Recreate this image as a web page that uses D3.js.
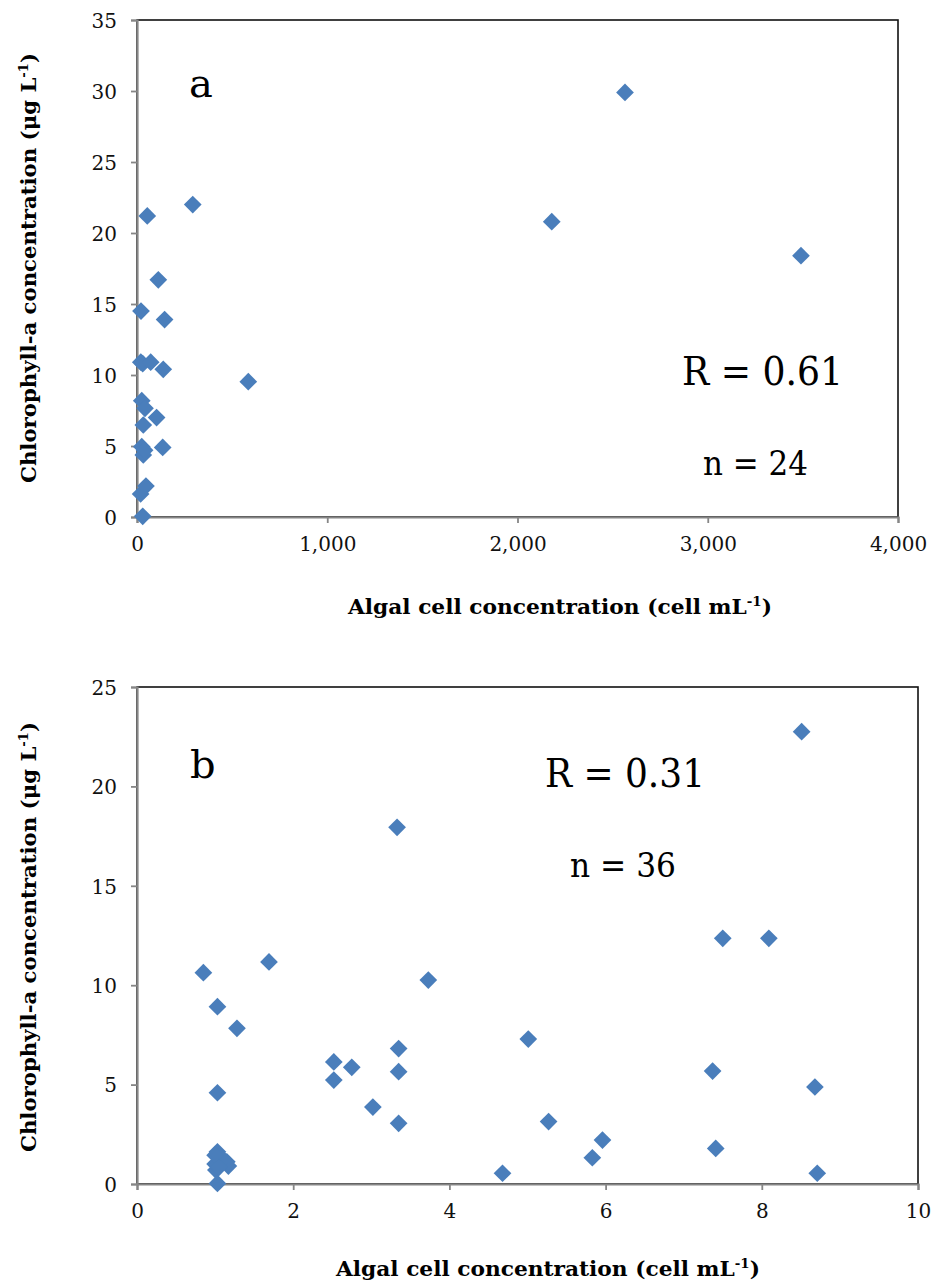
<!DOCTYPE html>
<html>
<head>
<meta charset="utf-8">
<script src="https://cdn.jsdelivr.net/npm/d3@7"></script>
<style>
  html, body { margin: 0; padding: 0; background: #fff; }
  svg { display: block; }
  .tick text { font-family: "DejaVu Serif", serif; font-size: 20px; fill: #111; }
</style>
</head>
<body>
<svg id="chart" width="933" height="1286"></svg>
<script>
// Panel a: algal cell concentration vs chlorophyll-a (cells up to 4,000 mL-1)
const cellsA = [30, 19, 47, 25, 33, 135, 40, 25, 42, 103, 33, 30, 20, 72, 138,
                21, 145, 112, 54, 293, 585, 2565, 2180, 3490];
const chlA   = [0.05, 1.62, 2.18, 4.95, 4.37, 4.9, 4.7, 8.19, 7.65, 7.0, 6.48, 10.8, 10.9, 10.9, 10.4,
                14.5, 13.9, 16.7, 21.2, 22.0, 9.53, 29.9, 20.8, 18.4];

// Panel b: algal cell concentration vs chlorophyll-a (cells up to 10 mL-1)
const cellsB = [0.85, 1.69, 3.33, 3.73, 1.03, 1.28, 1.03, 1.03, 1.06, 1.15, 1.17, 1.01,
                1.03, 1.00, 1.10, 1.00, 1.05, 2.52, 2.52, 2.75, 3.35, 3.35, 3.02, 3.35,
                5.01, 5.27, 5.96, 5.83, 4.68, 7.37, 7.41, 8.68, 8.71, 8.51, 7.50, 8.09];
const chlB   = [10.63, 11.17, 17.94, 10.26, 8.92, 7.83, 4.59, 1.62, 1.37, 1.12, 0.90, 0.70,
                0.03, 1.00, 1.25, 1.45, 0.85, 6.14, 5.23, 5.87, 6.81, 5.65, 3.87, 3.05,
                7.29, 3.14, 2.21, 1.32, 0.54, 5.68, 1.79, 4.88, 0.54, 22.75, 12.36, 12.36];

const xTicksA = [0, 1000, 2000, 3000, 4000];
const yTicksA = [0, 5, 10, 15, 20, 25, 30, 35];
const xTicksB = [0, 2, 4, 6, 8, 10];
const yTicksB = [0, 5, 10, 15, 20, 25];

const panels = [
  { letter: "a", cells: cellsA, chl: chlA, xMax: 4000, yMax: 35, xTicks: xTicksA, yTicks: yTicksA,
    xFmt: d3.format(","), r: "R = 0.61", n: "n = 24",
    box: { left: 137, right: 898, top: 20, bottom: 517 },
    letterPos: [189, 97], rPos: [682, 385, 161], nPos: [703, 475, 105],
    xTitle: [560, 614], yTitle: [36, 268] },
  { letter: "b", cells: cellsB, chl: chlB, xMax: 10, yMax: 25, xTicks: xTicksB, yTicks: yTicksB,
    xFmt: d3.format("d"), r: "R = 0.31", n: "n = 36",
    box: { left: 137, right: 918, top: 687, bottom: 1184 },
    letterPos: [190, 778], rPos: [545, 787, 160], nPos: [570, 877, 106],
    xTitle: [548, 1276], yTitle: [36, 937] }
];

const svg = d3.select("#chart");
const blue = "#4a7ebb";
const axisGrey = "#868686";
const diamond = d3.symbol().type(d3.symbolDiamond2).size(200);

panels.forEach(p => {
  const b = p.box;
  const x = d3.scaleLinear().domain([0, p.xMax]).range([b.left, b.right]);
  const y = d3.scaleLinear().domain([0, p.yMax]).range([b.bottom, b.top]);
  const g = svg.append("g");

  // plot-area frame
  g.append("rect")
    .attr("x", b.left).attr("y", b.top)
    .attr("width", b.right - b.left).attr("height", b.bottom - b.top)
    .attr("fill", "none").attr("stroke", "#111").attr("stroke-width", 1.6);

  // axes
  const yAxis = g.append("g").attr("transform", `translate(${b.left},0)`)
    .call(d3.axisLeft(y).tickValues(p.yTicks).tickSize(6).tickPadding(14).tickFormat(d3.format("d")));
  const xAxis = g.append("g").attr("transform", `translate(0,${b.bottom})`)
    .call(d3.axisBottom(x).tickValues(p.xTicks).tickSize(6).tickPadding(14).tickFormat(p.xFmt));
  [yAxis, xAxis].forEach(a => {
    a.select(".domain").attr("stroke", axisGrey).attr("stroke-width", 2.2);
    a.selectAll(".tick line").attr("stroke", axisGrey).attr("stroke-width", 1.8);
  });
  yAxis.selectAll(".tick text").attr("dy", "0.36em");
  xAxis.selectAll(".tick text").attr("dy", "0.72em");

  // points
  g.append("g").selectAll("path")
    .data(d3.range(p.cells.length))
    .join("path")
    .attr("d", diamond)
    .attr("transform", i => `translate(${x(p.cells[i])},${y(p.chl[i])})`)
    .attr("fill", blue);

  // panel letter and statistics
  g.append("text").attr("x", p.letterPos[0]).attr("y", p.letterPos[1])
    .attr("font-family", "DejaVu Serif").attr("font-size", 40).text(p.letter);
  g.append("text").attr("x", p.rPos[0]).attr("y", p.rPos[1])
    .attr("font-family", "DejaVu Serif").attr("font-size", 40)
    .attr("textLength", p.rPos[2]).attr("lengthAdjust", "spacingAndGlyphs").text(p.r);
  g.append("text").attr("x", p.nPos[0]).attr("y", p.nPos[1])
    .attr("font-family", "DejaVu Serif").attr("font-size", 33)
    .attr("textLength", p.nPos[2]).attr("lengthAdjust", "spacingAndGlyphs").text(p.n);

  // x-axis title
  const xt = g.append("text")
    .attr("x", p.xTitle[0]).attr("y", p.xTitle[1])
    .attr("text-anchor", "middle")
    .attr("font-family", "DejaVu Serif").attr("font-weight", "bold").attr("font-size", 21)
    .attr("textLength", 424).attr("lengthAdjust", "spacingAndGlyphs");
  xt.append("tspan").text("Algal cell concentration (cell mL");
  xt.append("tspan").attr("font-size", 13).attr("dy", -8).text("-1");
  xt.append("tspan").attr("dy", 8).text(")");

  // y-axis title
  const yt = g.append("text")
    .attr("transform", `translate(${p.yTitle[0]},${p.yTitle[1]}) rotate(-90)`)
    .attr("text-anchor", "middle")
    .attr("font-family", "DejaVu Serif").attr("font-weight", "bold").attr("font-size", 21)
    .attr("textLength", 430).attr("lengthAdjust", "spacingAndGlyphs");
  yt.append("tspan").text("Chlorophyll-a concentration (μg L");
  yt.append("tspan").attr("font-size", 13).attr("dy", -8).text("-1");
  yt.append("tspan").attr("dy", 8).text(")");
});
</script>
</body>
</html>
